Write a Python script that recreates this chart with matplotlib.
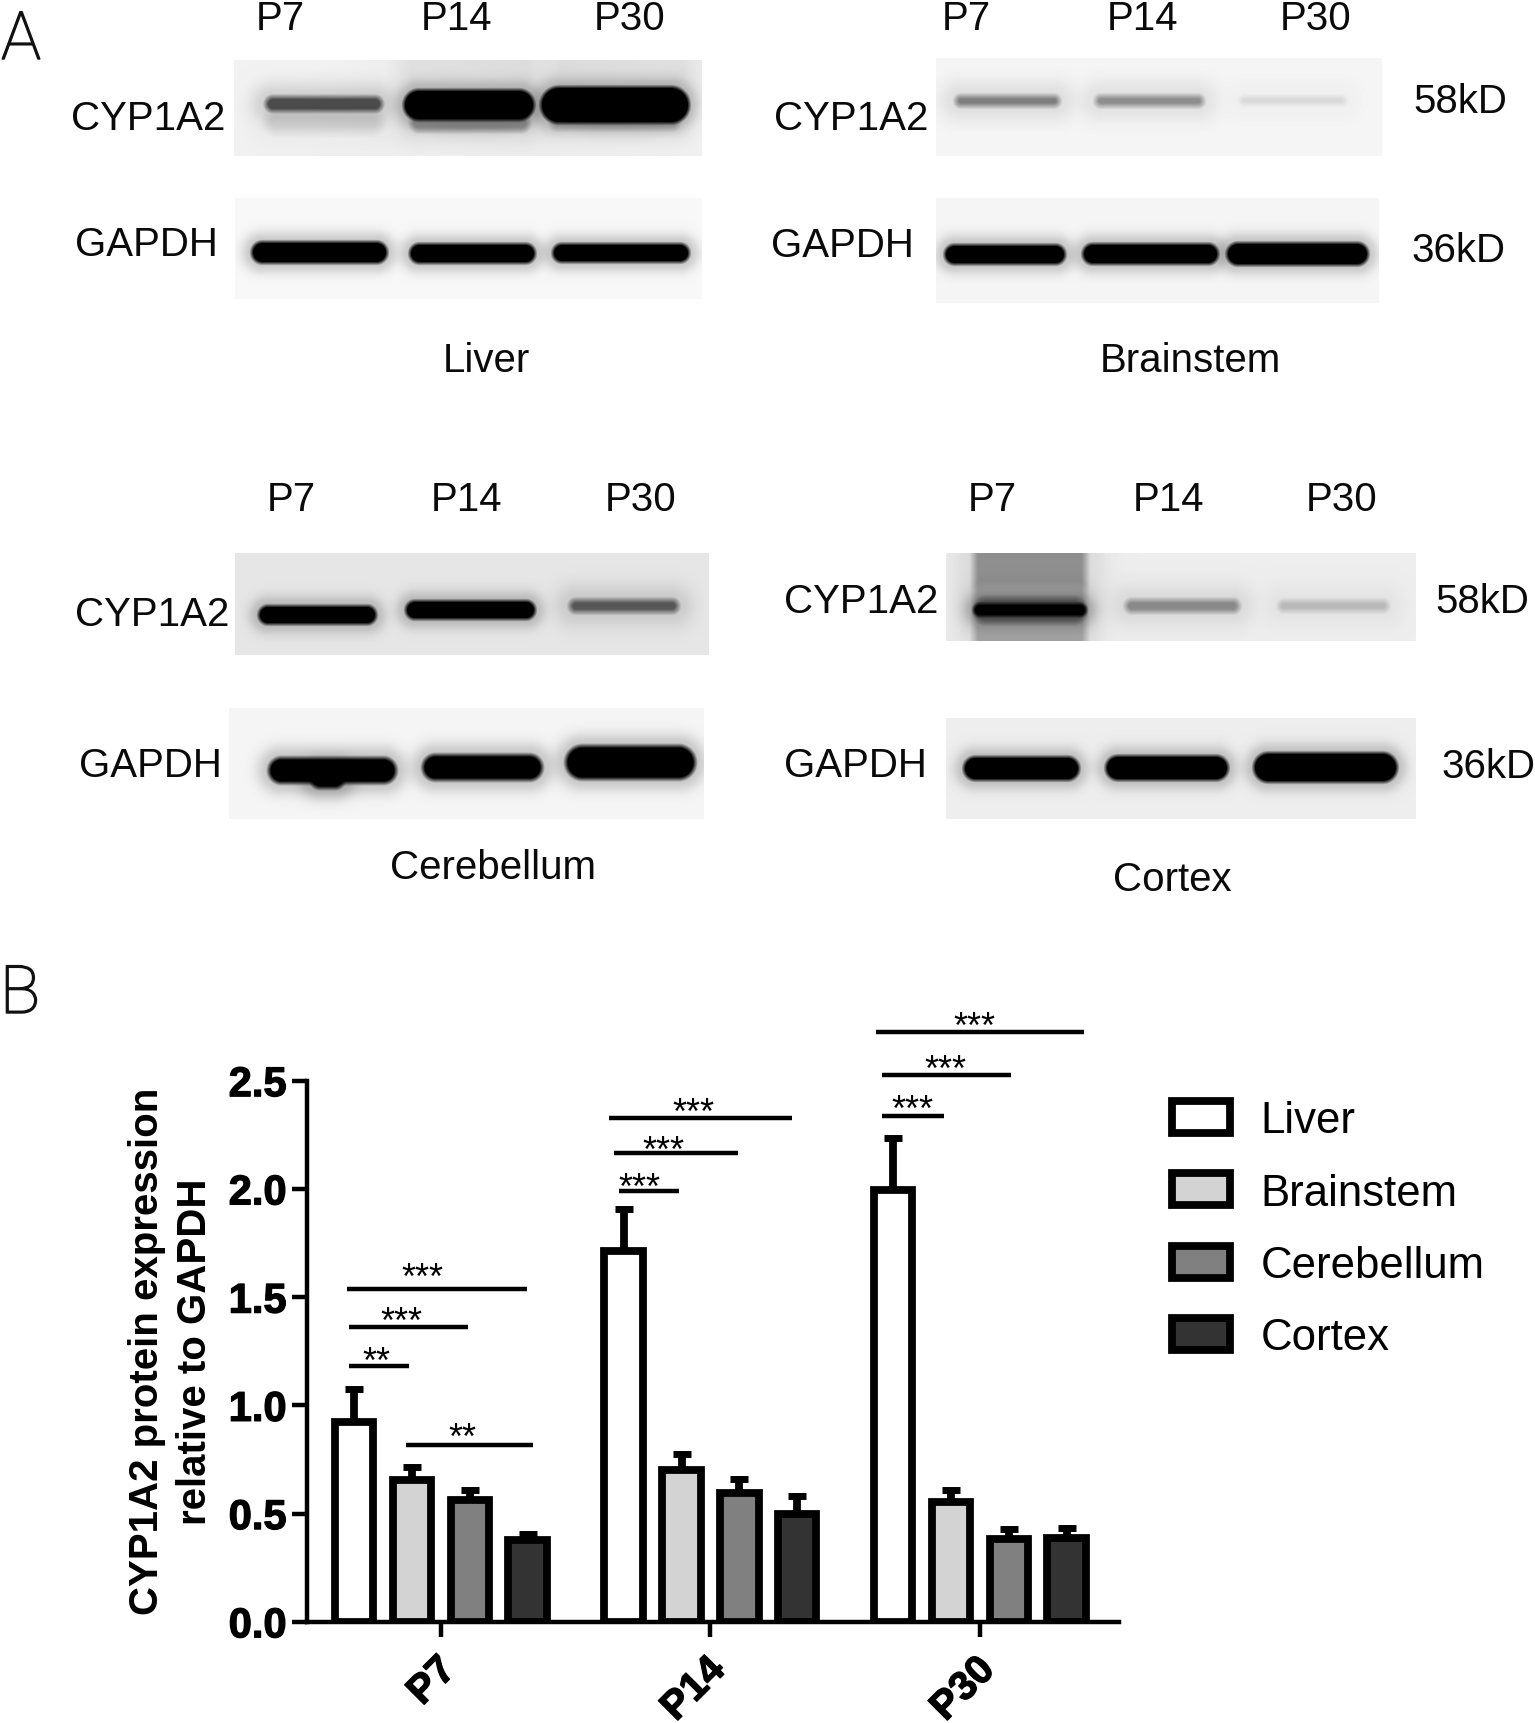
import numpy as np
import matplotlib
matplotlib.use('Agg')
import matplotlib.pyplot as plt
import matplotlib.ticker as tick
import matplotlib.patheffects as pe
from matplotlib.transforms import ScaledTranslation

plt.rcParams['font.family'] = ['Liberation Sans', 'DejaVu Sans']

W, H = 1535, 1724
DPI = 100

# bar chart values
groups = ['P7', 'P14', 'P30']
tissues = ['Liver', 'Brainstem', 'Cerebellum', 'Cortex']
liver = [0.923, 1.713, 1.993]
brainstem = [0.657, 0.700, 0.555]
cerebellum = [0.565, 0.593, 0.384]
cortex = [0.376, 0.499, 0.388]
liver_err = [0.151, 0.195, 0.244]
brainstem_err = [0.057, 0.073, 0.056]
cerebellum_err = [0.042, 0.065, 0.044]
cortex_err = [0.028, 0.080, 0.046]
fills = ['#FFFFFF', '#D3D3D3', '#808080', '#333333']

# significance lines: x from, x to (in group units), height
sig_x0 = [-0.350, -0.341, -0.341, -0.130, 0.622, 0.642, 0.660, 1.616, 1.636, 1.636]
sig_x1 = [0.321, 0.100, -0.120, 0.341, 1.304, 1.102, 0.883, 2.386, 2.115, 1.865]
sig_y = [1.538, 1.363, 1.182, 0.819, 2.328, 2.166, 1.991, 2.727, 2.528, 2.338]
star_x = [-0.067, -0.146, -0.241, 0.080, 0.935, 0.826, 0.737, 1.980, 1.870, 1.748]
star_y = [1.544, 1.341, 1.154, 0.804, 2.306, 2.131, 1.956, 2.703, 2.504, 2.319]
stars = ['***', '***', '**', '**', '***', '***', '***', '***', '***', '***']

# blots: frame in pixels, background grey, bands (x0, x1, y0, y1, darkness, softness[, corner])
blots = [
    ((234, 61, 702, 157), 0.95, [
        (395, 545, 10, 135, 0.08, 16), (545, 700, 10, 135, 0.08, 16),
        (265, 383, 112, 135, 0.12, 7), (265, 383, 97, 113, 0.68, 3.5),
        (410, 530, 115, 133, 0.35, 4), (403, 535, 90, 122, 1.0, 2.5),
        (550, 680, 115, 131, 0.25, 4), (540, 690, 87, 125, 1.0, 2.5)]),
    ((235, 199, 702, 300), 0.97, [
        (251, 388, 242, 265, 1.0, 2.5), (409, 536, 244, 265, 1.0, 2.5),
        (552, 690, 244, 264, 1.0, 2.5)]),
    ((936, 59, 1382, 157), 0.96, [
        (955, 1060, 96, 108, 0.48, 4), (1095, 1204, 96, 108, 0.42, 4),
        (1240, 1346, 97, 106, 0.12, 4)]),
    ((936, 199, 1379, 304), 0.96, [
        (944, 1066, 245, 266, 1.0, 2.5), (1082, 1219, 244, 266, 1.0, 2.5),
        (1226, 1369, 243, 267, 1.0, 2.5)]),
    ((235, 554, 709, 656), 0.90, [
        (258, 377, 606, 626, 1.0, 2.5), (405, 536, 601, 621, 1.0, 2.5),
        (569, 679, 600, 614, 0.62, 4)]),
    ((229, 709, 704, 820), 0.96, [
        (268, 397, 758, 785, 1.0, 3), (310, 345, 770, 790, 1.0, 3),
        (422, 543, 755, 782, 1.0, 3), (565, 696, 746, 781, 1.0, 3)]),
    ((946, 554, 1416, 642), 0.93, [
        (973, 1087, 480, 720, 0.30, 5, 1), (973, 1087, 480, 588, 0.14, 6, 1),
        (973, 1087, 598, 625, 0.40, 4), (973, 1087, 604, 618, 1.0, 2.5),
        (1125, 1240, 600, 614, 0.42, 4), (1278, 1389, 601, 613, 0.22, 4)]),
    ((946, 719, 1416, 820), 0.93, [
        (963, 1080, 757, 782, 1.0, 2.5), (1105, 1229, 756, 782, 1.0, 2.5),
        (1253, 1398, 753, 784, 1.0, 2.5)]),
]


def band_alpha(X, Y, x0, x1, y0, y1, dark, soft, corner=None):
    cx, cy = (x0+x1)/2, (y0+y1)/2
    hw, hh = (x1-x0)/2, (y1-y0)/2
    r = min(hw, hh) if corner is None else corner
    qx = np.abs(X-cx)-(hw-r)
    qy = np.abs(Y-cy)-(hh-r)
    d = np.hypot(np.maximum(qx, 0), np.maximum(qy, 0))+np.minimum(np.maximum(qx, qy), 0)-r
    core = np.clip(0.5-d/(2*soft), 0, 1)
    halo = 0.18*np.exp(-(np.maximum(d, 0)/(4*soft))**2)
    return dark*np.maximum(core, halo)


fig = plt.figure(figsize=(W/DPI, H/DPI), dpi=DPI)

# background axes in pixel coordinates, for panel A and the loose labels
bg = fig.add_axes([0, 0, 1, 1])
bg.set_xlim(0, W)
bg.set_ylim(H, 0)
bg.axis('off')

for (x0, y0, x1, y1), grey, bands in blots:
    X, Y = np.meshgrid(np.arange(x0, x1)+0.5, np.arange(y0, y1)+0.5)
    img = np.full(X.shape, grey)
    for b in bands:
        img = img*(1-band_alpha(X, Y, *b))
    bg.imshow(img, cmap='gray', vmin=0, vmax=1, extent=(x0, x1, y1, y0), aspect='auto',
              interpolation='bilinear')
bg.set_xlim(0, W)
bg.set_ylim(H, 0)


def label(x, y, s, size=29):
    # x, y = middle of the capitals
    bg.text(x, y+0.358*size*DPI/72, s, fontsize=size, ha='center', va='baseline', color='#0a0a0a')


lane_x = [[280, 456, 630], [966, 1142, 1316], [291, 467, 641], [992, 1168, 1342]]
lane_y = [16, 16, 497, 497]
for xs, y in zip(lane_x, lane_y):
    for x, g in zip(xs, groups):
        label(x, y, g)

label(148, 116, 'CYP1A2')
label(146, 242, 'GAPDH')
label(851, 116, 'CYP1A2')
label(842, 243, 'GAPDH')
label(152, 612, 'CYP1A2')
label(150, 763, 'GAPDH')
label(861, 599, 'CYP1A2')
label(855, 763, 'GAPDH')
label(1460, 99, '58kD')
label(1458, 248, '36kD')
label(1482, 599, '58kD')
label(1488, 764, '36kD')
label(486, 358, 'Liver')
label(1190, 358, 'Brainstem')
label(493, 865, 'Cerebellum')
label(1172, 877, 'Cortex')

panel_stroke = [pe.withStroke(linewidth=1.0, foreground='#111111')]
bg.text(21, 60, 'A', fontsize=48, ha='center', va='baseline', family='Roboto', weight='light',
        color='#111111', path_effects=panel_stroke)
bg.text(20, 1014, 'B', fontsize=48, ha='center', va='baseline', family='Roboto', weight='light',
        color='#111111', path_effects=panel_stroke)

# panel B
ax = fig.add_axes([306.7/W, 1-1622.8/H, (1119-306.7)/W, (1622.8-1081.7)/H])
ax.patch.set_alpha(0)
x = np.arange(len(groups))
pitch = 0.2145
bar_w = 0.143
series = [liver, brainstem, cerebellum, cortex]
errors = [liver_err, brainstem_err, cerebellum_err, cortex_err]
handles = []
for i in range(4):
    pos = x+(i-1.5)*pitch
    ax.errorbar(pos, series[i], yerr=[np.zeros(3), errors[i]], fmt='none', ecolor='black',
                elinewidth=5.6, capsize=6.6, capthick=5.0, zorder=1)
    h = ax.bar(pos, series[i], bar_w, color=fills[i], edgecolor='black', linewidth=5.6,
               label=tissues[i], zorder=2)
    handles.append(h)

for x0, x1, y in zip(sig_x0, sig_x1, sig_y):
    ax.plot([x0, x1], [y, y], color='black', lw=3.2, solid_capstyle='butt', clip_on=False)
for sx, sy, s in zip(star_x, star_y, stars):
    ax.text(sx, sy, s, fontsize=26, ha='center', va='baseline', clip_on=False)

ax.set_xlim(-0.498, 2.516)
ax.set_ylim(0, 2.5)
ax.yaxis.set_major_locator(tick.MultipleLocator(0.5))
ax.yaxis.set_major_formatter(tick.FormatStrFormatter('%.1f'))
ax.set_xticks(x)
ax.set_xticklabels(groups, rotation=45, ha='right', rotation_mode='anchor',
                   fontsize=29, fontweight='bold')
ax.tick_params(axis='x', width=3.2, length=10.5, pad=10)
ax.tick_params(axis='y', width=3.2, length=10.5, pad=4, labelsize=30)
heavy = [pe.withStroke(linewidth=0.9, foreground='black')]
shift = ScaledTranslation(-5/DPI, 0, fig.dpi_scale_trans)
for t in ax.get_xticklabels():
    t.set_path_effects(heavy)
    t.set_transform(t.get_transform()+shift)
for t in ax.get_yticklabels():
    t.set_fontweight('bold')
    t.set_path_effects(heavy)
for side in ['top', 'right']:
    ax.spines[side].set_visible(False)
for side in ['left', 'bottom']:
    ax.spines[side].set_linewidth(3.2)

bg.text(147, 1351, 'CYP1A2 protein expression', rotation=90, fontsize=29, fontweight='bold',
        ha='center', va='center')
bg.text(195, 1352, 'relative to GAPDH', rotation=90, fontsize=29, fontweight='bold',
        ha='center', va='center')

ax.legend(handles=handles, loc='upper left', bbox_to_anchor=(1172/W, 1-1101/H),
          bbox_transform=fig.transFigure, frameon=False, fontsize=31.5, borderpad=0,
          borderaxespad=0, handlelength=1.33, handleheight=0.76, handletextpad=0.7,
          labelspacing=0.72)

fig.savefig('out.png', dpi=DPI)
